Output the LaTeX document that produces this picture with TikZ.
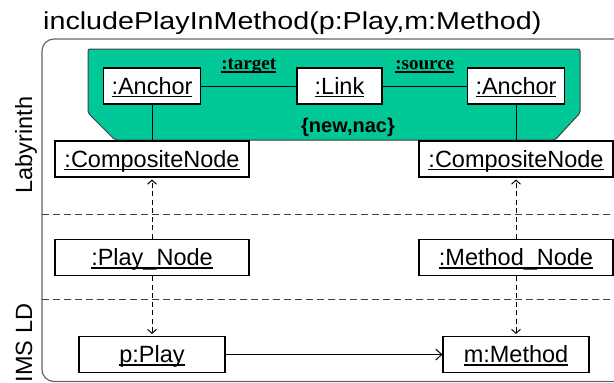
\documentclass[tikz,border=0pt]{standalone}
\usepackage{fontspec}
\setmainfont{Liberation Sans}
\newfontfamily\rolefont{Liberation Serif}
\newfontfamily\titlefont[FakeStretch=1.17]{Liberation Sans}
\usetikzlibrary{arrows.meta}
\definecolor{nacgreen}{RGB}{0,200,150}
\newcommand{\ulabel}[1]{\setbox0\hbox{#1}\rlap{\rule[-3.2pt]{\wd0}{1.3pt}}\box0}
\tikzstyle{objbox}=[rectangle,draw=black,fill=white,line width=1.1pt,inner sep=0pt,minimum height=36pt,text height=17pt,text depth=1pt,font=\fontsize{23.5}{26}\selectfont]
\tikzstyle{assoc} = [draw,line width=1pt]
\tikzstyle{corr} = [draw,line width=1pt,dash pattern=on 5pt off 3.5pt,-{Straight Barb[length=4pt,width=9pt]},shorten >=2pt]
\tikzstyle{flow} = [draw,line width=1pt,-{Straight Barb[length=6pt,width=11pt]}]
\tikzstyle{separator} = [draw=black!75,line width=1pt,dash pattern=on 7pt off 4pt]
\tikzstyle{frame} = [draw=black!60,line width=1.2pt,rounded corners=12pt]
\tikzstyle{nacregion} = [fill=nacgreen,draw=black!75,line width=1pt,rounded corners=2pt]
\tikzstyle{rolelabel} = [font=\rolefont\bfseries\fontsize{19}{21}\selectfont,inner sep=0pt,text height=12pt,text depth=3.2pt]
\tikzstyle{lanelabel} = [rotate=90,font=\fontsize{23.5}{26}\selectfont,inner sep=0pt]

\begin{document}
\begin{tikzpicture}[x=1pt,y=-1pt]
    \clip (0,0) rectangle (614,383);
    % Rule name and outer frame
    \node[font=\titlefont\fontsize{24.5}{28}\selectfont,inner sep=0pt,anchor=base west] (title) at (43,29) {includePlayInMethod(p:Play,m:Method)};
    \draw[frame] (640,39) -- (42,39) -- (42,381.5) -- (640,381.5);

    % Lanes
    \draw[separator] (42,214) -- (614,214);
    \draw[separator] (42,299) -- (614,299);
    \node[lanelabel,anchor=base] (labyrinth) at (32,145) {Labyrinth};
    \node[lanelabel,anchor=base] (imsld) at (32,343) {IMS LD};

    % Negative application condition
    \path[nacregion] (88,49) -- (580,49) -- (580,113) -- (555,140) -- (115,140) -- (88,113) -- cycle;
    \node[font=\bfseries\fontsize{20}{22}\selectfont] (newnac) at (348,127) {\{new,nac\}};

    % First we draw the objects
    \foreach \pos/\name/\w/\txt in {{(152,86)/anchorL/97pt/:Anchor}, {(339.5,86)/link/85pt/:Link}, {(516,86)/anchorR/97pt/:Anchor},
    {(152,159)/compL/194pt/:CompositeNode}, {(516,159)/compR/194pt/:CompositeNode},
    {(152,257.5)/playN/194pt/:Play\_Node}, {(516,257.5)/methN/194pt/:Method\_Node},
    {(152,354.5)/play/146pt/p:Play}, {(516,354.5)/meth/146pt/m:Method}}
        \node[objbox,minimum width=\w] (\name) at \pos {\ulabel{\txt}};

    % Links with roles
    \foreach \source/\dest/\role in {anchorL/link/{:target}, link/anchorR/{:source}}
        \path[assoc] (\source) -- node[rolelabel,above=13pt] {\ulabel{\role}} (\dest);
    \foreach \source/\dest in {anchorL/compL, anchorR/compR}
        \path[assoc] (\source) -- (\dest);

    % Correspondences
    \foreach \source/\dest in {playN/compL, methN/compR, playN/play, methN/meth}
        \path[corr] (\source) -- (\dest);
    \path[flow] (play) -- (meth);
\end{tikzpicture}
\end{document}
